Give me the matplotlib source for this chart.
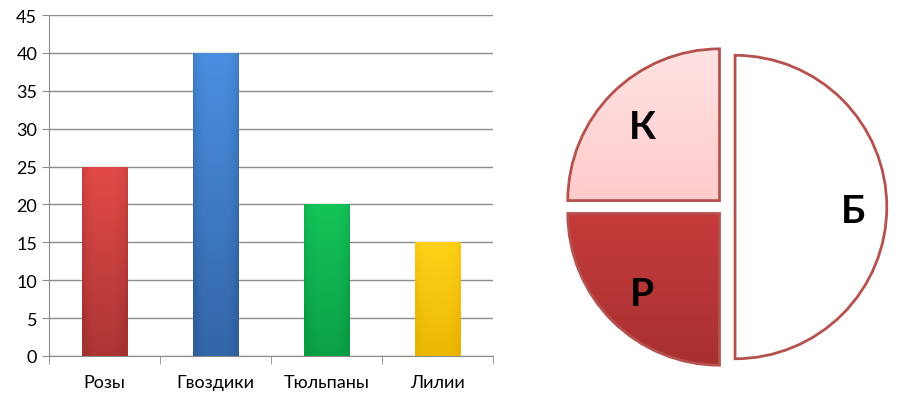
import numpy as np
import matplotlib.pyplot as plt
from matplotlib.colors import LinearSegmentedColormap

plt.rcParams['font.family'] = ['Lato', 'DejaVu Sans']

flowers = ["Розы", "Гвоздики", "Тюльпаны", "Лилии"]
counts = [25, 40, 20, 15]
bar_top = ["#e24a48", "#4a8fe0", "#14c458", "#ffd21a"]
bar_bottom = ["#a33230", "#2f5f9e", "#0a9a42", "#e8b400"]

pie_labels = ["Б", "К", "Р"]
pie_shares = [50, 25, 25]
pie_top = ["#ffffff", "#ffe2e2", "#e24845"]
pie_bottom = ["#ffffff", "#ffb4b4", "#a83030"]
edge = "#b5514f"

fig = plt.figure(figsize=(9.12, 4.02), dpi=100)

# bar chart
ax = fig.add_axes([0.0537, 0.112, 0.487, 0.848])
x = np.arange(len(flowers))
bars = ax.bar(x, counts, width=0.41, color=bar_top, zorder=3)
for b, c1, c2 in zip(bars, bar_top, bar_bottom):
    bx, by = b.get_x(), b.get_y()
    w, h = b.get_width(), b.get_height()
    cmap = LinearSegmentedColormap.from_list("g", [c1, c2])
    vert = np.linspace(0, 1, 100)[:, None]
    horiz = np.abs(np.linspace(-1, 1, 50))[None, :]
    grad = np.clip(vert * 0.85 + horiz ** 4 * 0.35, 0, 1)
    im = ax.imshow(grad, cmap=cmap, vmin=0, vmax=1, aspect="auto",
                   extent=(bx, bx + w, by, by + h), origin="upper", zorder=4)
    im.set_clip_path(b)

ax.set_xlim(-0.5, len(flowers) - 0.5)
ax.set_ylim(0, 45)
ax.set_yticks(range(0, 46, 5))
ax.set_xticks(x)
ax.set_xticklabels(flowers, fontsize=13)
ax.set_xticks(np.arange(-0.5, len(flowers)), minor=True)
ax.tick_params(axis="x", which="major", length=0, pad=13)
ax.tick_params(axis="x", which="minor", length=6, color="#8c8c8c")
ax.tick_params(axis="y", length=5, color="#8c8c8c", labelsize=13)
ax.grid(axis="y", color="#8c8c8c", lw=1, zorder=0)
for s in ["top", "right"]:
    ax.spines[s].set_visible(False)
for s in ["left", "bottom"]:
    ax.spines[s].set_color("#8c8c8c")

# pie chart
ax2 = fig.add_axes([0.613, 0.067, 0.366, 0.831])
wedges, _ = ax2.pie(pie_shares, startangle=-90, counterclock=True,
                    explode=[0.06, 0.06, 0.06],
                    wedgeprops=dict(edgecolor=edge, linewidth=2))
for wd, lab, c1, c2 in zip(wedges, pie_labels, pie_top, pie_bottom):
    wd.set_facecolor("none")
    wd.set_zorder(3)
    cmap = LinearSegmentedColormap.from_list("g", [c1, c2])
    cx, cy = wd.center
    r = wd.r
    grad = np.linspace(0, 1, 100)[:, None] * np.ones((1, 10))
    im = ax2.imshow(grad, cmap=cmap, aspect="auto", origin="upper",
                    extent=(cx - r, cx + r, cy - r, cy + r), zorder=1)
    im.set_clip_path(wd)
    ang = np.deg2rad((wd.theta1 + wd.theta2) / 2)
    dist = 0.78 if lab == "Б" else 0.72
    ax2.text(cx + dist * r * np.cos(ang), cy + dist * r * np.sin(ang), lab,
             fontsize=28, fontweight="bold", ha="center", va="center_baseline",
             zorder=5)
ax2.set_xlim(-1.1, 1.1)
ax2.set_ylim(-1.1, 1.1)
ax2.set_aspect("equal")
ax2.axis("off")

fig.savefig("out.png", dpi=100)
